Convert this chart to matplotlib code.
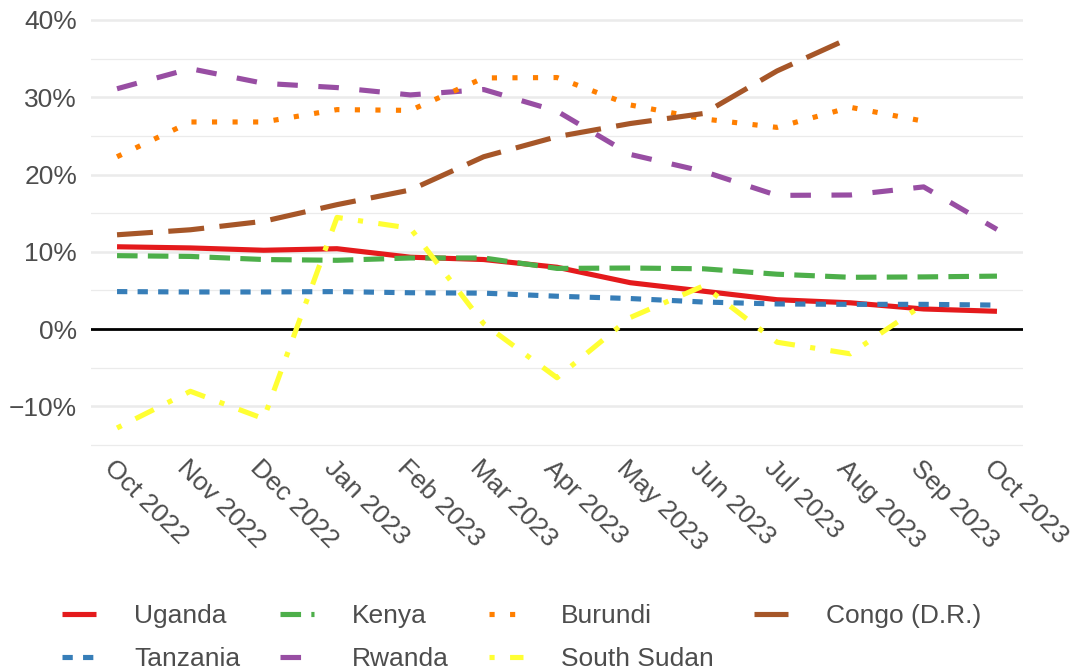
import numpy as np
import matplotlib
matplotlib.use("Agg")
import matplotlib.pyplot as plt
import matplotlib.transforms as mtransforms
from matplotlib.lines import Line2D

plt.rcParams['font.family'] = ['Liberation Sans', 'DejaVu Sans']

months = ['Oct 2022', 'Nov 2022', 'Dec 2022', 'Jan 2023', 'Feb 2023', 'Mar 2023',
          'Apr 2023', 'May 2023', 'Jun 2023', 'Jul 2023', 'Aug 2023', 'Sep 2023',
          'Oct 2023']

# year-on-year inflation, percent
uganda = [10.65, 10.5, 10.2, 10.4, 9.3, 9.0, 8.0, 6.0, 4.9, 3.8, 3.4, 2.6, 2.3]
tanzania = [4.85, 4.8, 4.8, 4.85, 4.7, 4.65, 4.25, 3.95, 3.5, 3.25, 3.2, 3.2, 3.1]
kenya = [9.5, 9.4, 9.0, 8.9, 9.2, 9.2, 7.85, 7.9, 7.8, 7.1, 6.7, 6.75, 6.85]
rwanda = [31.1, 33.7, 31.8, 31.25, 30.3, 31.0, 28.2, 22.6, 20.4, 17.3, 17.35, 18.4, 12.9]
burundi = [22.3, 26.8, 26.8, 28.4, 28.3, 32.5, 32.55, 29.0, 27.2, 26.1, 28.7, 26.9, np.nan]
south_sudan = [-12.8, -8.05, -11.6, 14.45, 13.05, 0.7, -6.3, 1.5, 5.6, -1.7, -3.2, 3.2, np.nan]
congo = [12.2, 12.85, 13.95, 16.1, 18.0, 22.3, 24.9, 26.6, 27.9, 33.4, 37.7, np.nan, np.nan]

series = [
    ('Uganda', uganda, '#E41A1C', None),
    ('Tanzania', tanzania, '#377EB8', (0, (2, 2))),
    ('Kenya', kenya, '#4DAF4A', (0, (4, 2))),
    ('Rwanda', rwanda, '#984EA3', (0, (4, 4))),
    ('Burundi', burundi, '#FF7F00', (0, (1, 3))),
    ('South Sudan', south_sudan, '#FFFF33', (0, (1, 3, 4, 3))),
    ('Congo (D.R.)', congo, '#A65628', (0, (7, 3))),
]

W, H = 1076, 671
fig = plt.figure(figsize=(W / 100, H / 100), dpi=100)
ax = fig.add_axes([91 / W, 1 - 447.3 / H, (1023 - 91) / W, (447.3 - 19.2) / H])

text_col = '#4d4d4d'
fs = 19
lw = 3.7
x = np.arange(len(months))

# grid
for v in range(-15, 41, 5):
    major = (v % 10 == 0)
    ax.axhline(v, color='#ebebeb', lw=1.8 if major else 0.9, zorder=0)
ax.axhline(0, color='black', lw=2.0, zorder=1)

handles = []
for name, vals, col, ls in series:
    kw = dict(color=col, lw=lw, solid_capstyle='butt', dash_capstyle='butt')
    if ls is not None:
        kw['linestyle'] = ls
    ax.plot(x, vals, zorder=3, **kw)
    handles.append(Line2D([], [], **kw))

ax.set_xlim(-0.355, 12.355)
ax.set_ylim(-15.3, 40.1)
for s in ax.spines.values():
    s.set_visible(False)

yt = [-10, 0, 10, 20, 30, 40]
ax.set_yticks(yt)
ax.set_yticklabels([f'{v}%'.replace('-', '\u2212') for v in yt])
ax.tick_params(axis='y', length=0, pad=10, labelsize=fs, labelcolor=text_col)

ax.set_xticks(x)
ax.set_xticklabels(months, rotation=-45, ha='left', va='top', rotation_mode='anchor')
ax.tick_params(axis='x', length=0, pad=6, labelsize=fs, labelcolor=text_col)
offset = mtransforms.ScaledTranslation(-1 / 100, 0, fig.dpi_scale_trans)
for lab in ax.get_xticklabels():
    lab.set_transform(lab.get_transform() + offset)

leg = fig.legend(handles, [s[0] for s in series], loc='upper left',
                 bbox_to_anchor=(62 / W, 1 - 604 / H), ncol=4, frameon=False,
                 fontsize=fs, handlelength=1.29, handletextpad=1.44,
                 columnspacing=1.52, labelspacing=0.72, borderpad=0,
                 borderaxespad=0)
for t in leg.get_texts():
    t.set_color(text_col)

fig.savefig('out.png', dpi=100)
